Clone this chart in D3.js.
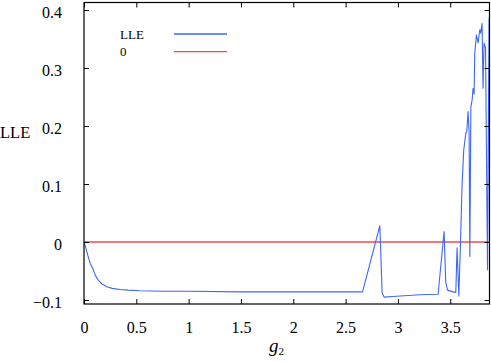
<!DOCTYPE html>
<html>
<head>
<meta charset="utf-8">
<script src="https://cdn.jsdelivr.net/npm/d3@7"></script>
<style>
  body { margin: 0; background: #fff; }
</style>
</head>
<body>
<svg id="chart" width="491" height="361"></svg>
<script>
// LLE vs g2
const g2 = [0, 0.02, 0.038, 0.06, 0.089, 0.11, 0.137, 0.17, 0.217, 0.27, 0.344, 0.42, 0.535, 0.75, 1.0, 1.5, 2.0, 2.4, 2.662,
  2.827, 2.849, 2.868, 2.95, 3.21, 3.384, 3.441, 3.457, 3.474, 3.527, 3.553, 3.565, 3.582, 3.598, 3.613, 3.629,
  3.649, 3.658, 3.670, 3.680, 3.687, 3.697, 3.709, 3.718, 3.728, 3.734, 3.750, 3.766, 3.782, 3.791, 3.804,
  3.813, 3.823, 3.837, 3.856, 3.871, 3.876]
const lle = [0, -0.012, -0.024, -0.037, -0.048, -0.058, -0.066, -0.072, -0.077, -0.080, -0.082, -0.083, -0.084, -0.085, -0.085, -0.086, -0.086, -0.086, -0.086,
  0.028, -0.088, -0.095, -0.094, -0.091, -0.090, 0.018, -0.070, -0.083, -0.086, -0.087, -0.010, -0.093, 0.0, 0.100, 0.159,
  0.188, 0.190, 0.225, 0.190, -0.025, 0.233, 0.245, 0.265, 0.255, 0.325, 0.357, 0.343, 0.366, 0.360, 0.377,
  0.265, 0.343, 0.335, -0.048, 0.383, 0.390]
const xTicks = [0, 0.5, 1, 1.5, 2, 2.5, 3, 3.5]
const yTicks = [-0.1, 0, 0.1, 0.2, 0.3, 0.4]
const legendLabels = ['LLE', '0']
const colors = ['#3f66fa', '#f04848']

const SERIF = '"Liberation Serif", "Times New Roman", serif'
const W = 491, H = 361
const m = {top: 2.5, right: 1.5, bottom: 57, left: 84}
const iw = W - m.left - m.right, ih = H - m.top - m.bottom

const x = d3.scaleLinear().domain([0, 3.875]).range([0, iw])
const y = d3.scaleLinear().domain([-0.1069, 0.4129]).range([ih, 0])

const svg = d3.select('#chart').style('font-family', SERIF)
const g = svg.append('g').attr('transform', `translate(${m.left},${m.top})`)

// zero line
g.append('line')
  .attr('x1', x(0)).attr('x2', x(3.875))
  .attr('y1', y(0)).attr('y2', y(0))
  .attr('stroke', colors[1]).attr('stroke-width', 1.3)

// LLE curve
const pts = g2.map((v, i) => [v, lle[i]])
g.append('path')
  .datum(pts)
  .attr('d', d3.line().x((d) => x(d[0])).y((d) => y(d[1])))
  .attr('fill', 'none')
  .attr('stroke', colors[0])
  .attr('stroke-width', 1.1)
  .attr('stroke-linejoin', 'round')

// axes, ticks pointing inward on all sides
const fmt = (d) => d3.format('')(+d.toFixed(2))
const axB = g.append('g').attr('transform', `translate(0,${ih})`)
  .call(d3.axisBottom(x).tickValues(xTicks).tickFormat(fmt).tickSizeInner(-5).tickSizeOuter(0).tickPadding(18))
const axT = g.append('g')
  .call(d3.axisTop(x).tickValues(xTicks).tickFormat('').tickSizeInner(-5).tickSizeOuter(0))
const axL = g.append('g')
  .call(d3.axisLeft(y).tickValues(yTicks).tickFormat(fmt).tickSizeInner(-5).tickSizeOuter(0).tickPadding(22))
const axR = g.append('g').attr('transform', `translate(${iw},0)`)
  .call(d3.axisRight(y).tickValues(yTicks).tickFormat('').tickSizeInner(-5).tickSizeOuter(0))

;[axB, axT, axL, axR].forEach((a) => {
  a.attr('font-family', null).attr('font-size', null)
  a.select('.domain').remove()
  a.selectAll('line').attr('stroke', '#000')
  a.selectAll('text').style('font-family', SERIF).style('font-size', '16px')
})
axL.selectAll('text').attr('dy', '0.5em')

g.append('rect')
  .attr('width', iw).attr('height', ih)
  .attr('fill', 'none').attr('stroke', '#000').attr('stroke-width', 1.2)

// axis titles
const xt = svg.append('text').attr('x', 269).attr('y', 352).style('font-size', '19px')
xt.append('tspan').attr('font-style', 'italic').text('g')
xt.append('tspan').style('font-size', '11px').attr('dy', 3).text('2')

svg.append('text').attr('x', 0).attr('y', 138).style('font-size', '16.5px').text('LLE')

// legend
const leg = svg.append('g')
legendLabels.forEach((lab, i) => {
  const yy = 34 + i * 17.7
  leg.append('text').attr('x', 120).attr('y', yy + 4.5).style('font-size', '13px').text(lab)
  leg.append('line').attr('x1', 174).attr('x2', 227).attr('y1', yy).attr('y2', yy)
    .attr('stroke', colors[i]).attr('stroke-width', 1.3)
})
</script>
</body>
</html>
